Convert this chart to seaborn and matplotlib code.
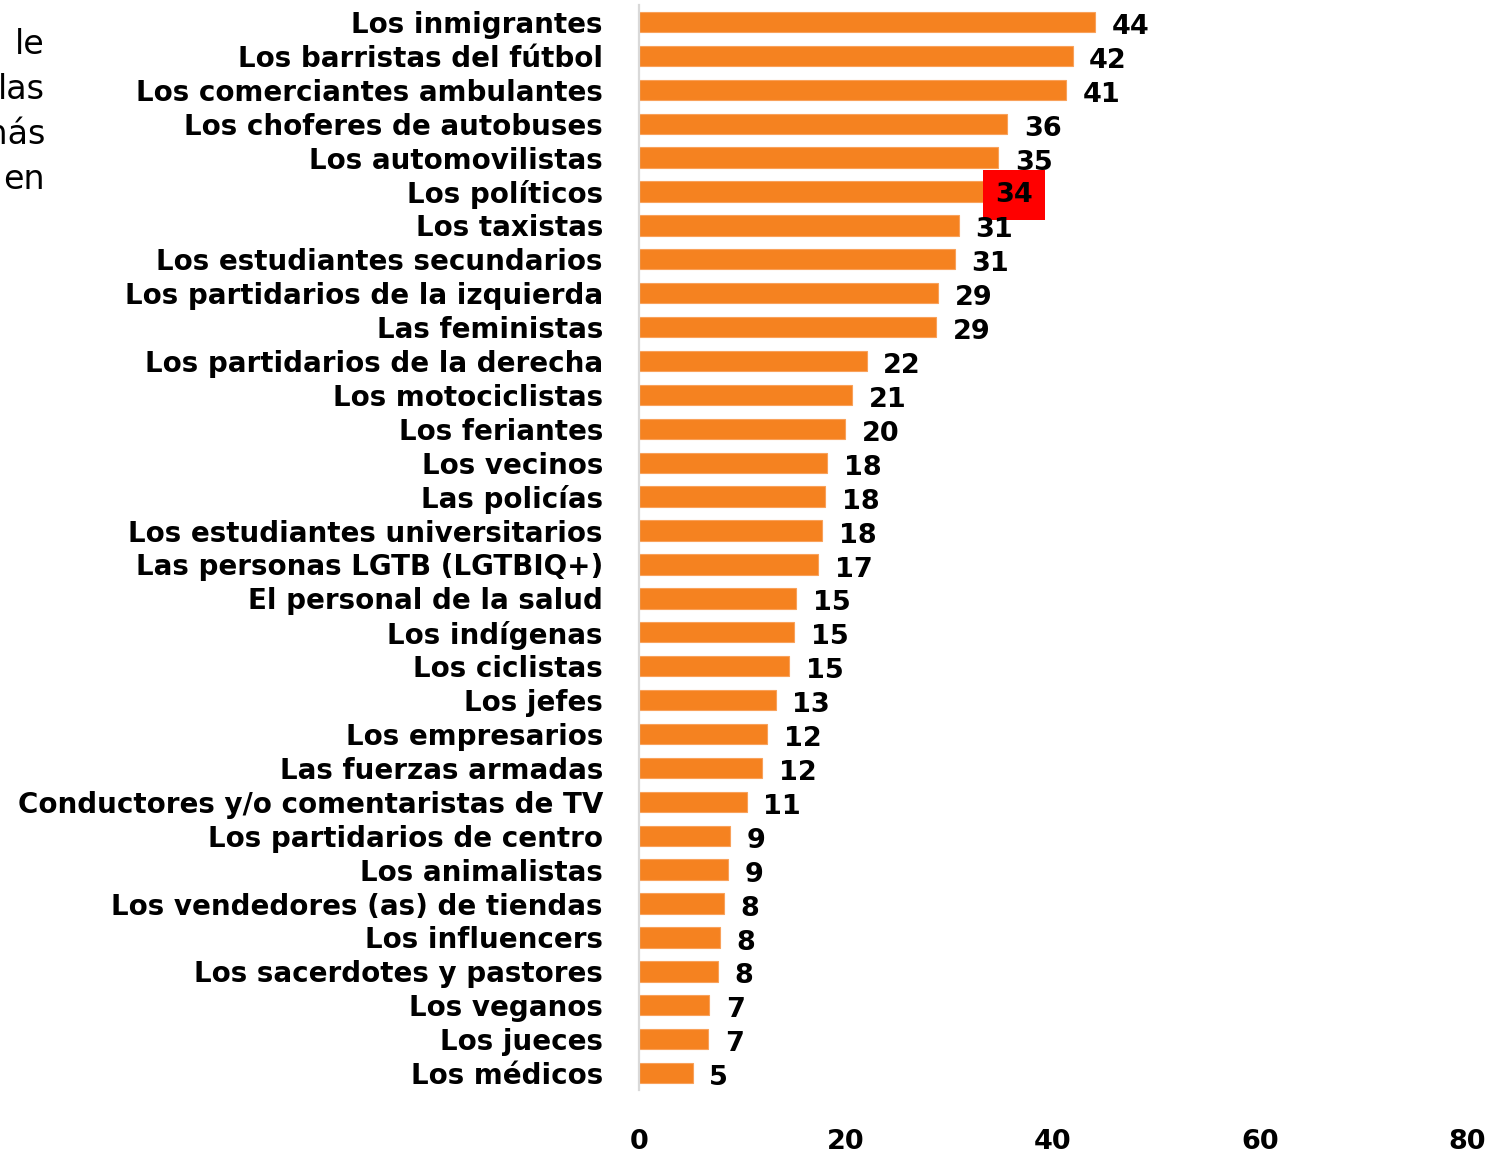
import matplotlib
matplotlib.use("Agg")
import matplotlib.pyplot as plt
import seaborn as sns
import pandas as pd

categories = [
    "Los inmigrantes", "Los barristas del fútbol", "Los comerciantes ambulantes",
    "Los choferes de autobuses", "Los automovilistas", "Los políticos", "Los taxistas",
    "Los estudiantes secundarios", "Los partidarios de la izquierda", "Las feministas",
    "Los partidarios de la derecha", "Los motociclistas", "Los feriantes", "Los vecinos",
    "Las policías", "Los estudiantes universitarios", "Las personas LGTB (LGTBIQ+)",
    "El personal de la salud", "Los indígenas", "Los ciclistas", "Los jefes",
    "Los empresarios", "Las fuerzas armadas", "Conductores y/o comentaristas de TV",
    "Los partidarios de centro", "Los animalistas", "Los vendedores (as) de tiendas",
    "Los influencers", "Los sacerdotes y pastores", "Los veganos", "Los jueces", "Los médicos",
]
values = [44.1, 41.9, 41.3, 35.6, 34.7, 33.9, 30.9, 30.5, 28.9, 28.7, 22.0, 20.6, 19.9,
          18.2, 18.0, 17.7, 17.3, 15.2, 15.0, 14.5, 13.2, 12.4, 11.9, 10.4, 8.8, 8.6,
          8.2, 7.8, 7.6, 6.8, 6.7, 5.2]
value_labels = ["44", "42", "41", "36", "35", "34", "31", "31", "29", "29", "22", "21", "20",
                "18", "18", "18", "17", "15", "15", "15", "13", "12", "12", "11", "9", "9",
                "8", "8", "8", "7", "7", "5"]
highlight = "Los políticos"
xticks = [0, 20, 40, 60, 80]
title_fragments = ["le", "las", "más", "en"]

sns.set_theme(style="white")
plt.rcParams["font.family"] = ["DejaVu Sans"]

W, H = 1509, 1156
fig = plt.figure(figsize=(W / 100, H / 100), dpi=100)
ax = fig.add_axes([639 / W, 1 - 1090 / H, (1467 - 639) / W, (1090 - 5) / H])

df = pd.DataFrame({"cat": categories, "val": values})
sns.barplot(data=df, y="cat", x="val", orient="h", color="#F58220", saturation=1,
            width=0.6, ax=ax, order=categories, edgecolor="#F9A15A", linewidth=0.8)

ax.set_xlim(0, 80)
ax.set_ylim(len(categories) - 0.5, -0.5)
ax.set_xlabel("")
ax.set_ylabel("")
ax.set_xticks(xticks)
ax.set_xticklabels([str(t) for t in xticks], fontsize=19.5, fontweight="bold", color="black")
ax.tick_params(axis="x", length=0, pad=28)
ax.tick_params(axis="y", length=0, pad=26)
for lbl in ax.get_yticklabels():
    lbl.set_fontsize(20)
    lbl.set_fontweight("bold")
    lbl.set_color("black")

for s in ["top", "right", "bottom"]:
    ax.spines[s].set_visible(False)
ax.spines["left"].set_color("#D9D9D9")
ax.spines["left"].set_linewidth(1.6)

for i, (v, lab, cat) in enumerate(zip(values, value_labels, categories)):
    if cat == highlight:
        ax.text(v + 2.3, i + 0.1, lab, ha="center", va="center", fontsize=19.5,
                fontweight="bold", color="black",
                bbox=dict(boxstyle="square,pad=0.45", facecolor="#FF0000", edgecolor="none"))
    else:
        ax.text(v + 1.6, i + 0.15, lab, ha="left", va="center", fontsize=19.5,
                fontweight="bold", color="black")

for k, frag in enumerate(title_fragments):
    fig.text(45 / W, 1 - (44 + 45.3 * k) / H, frag, ha="right", va="center",
             fontsize=24, color="black")

fig.savefig("out.png", dpi=100)
